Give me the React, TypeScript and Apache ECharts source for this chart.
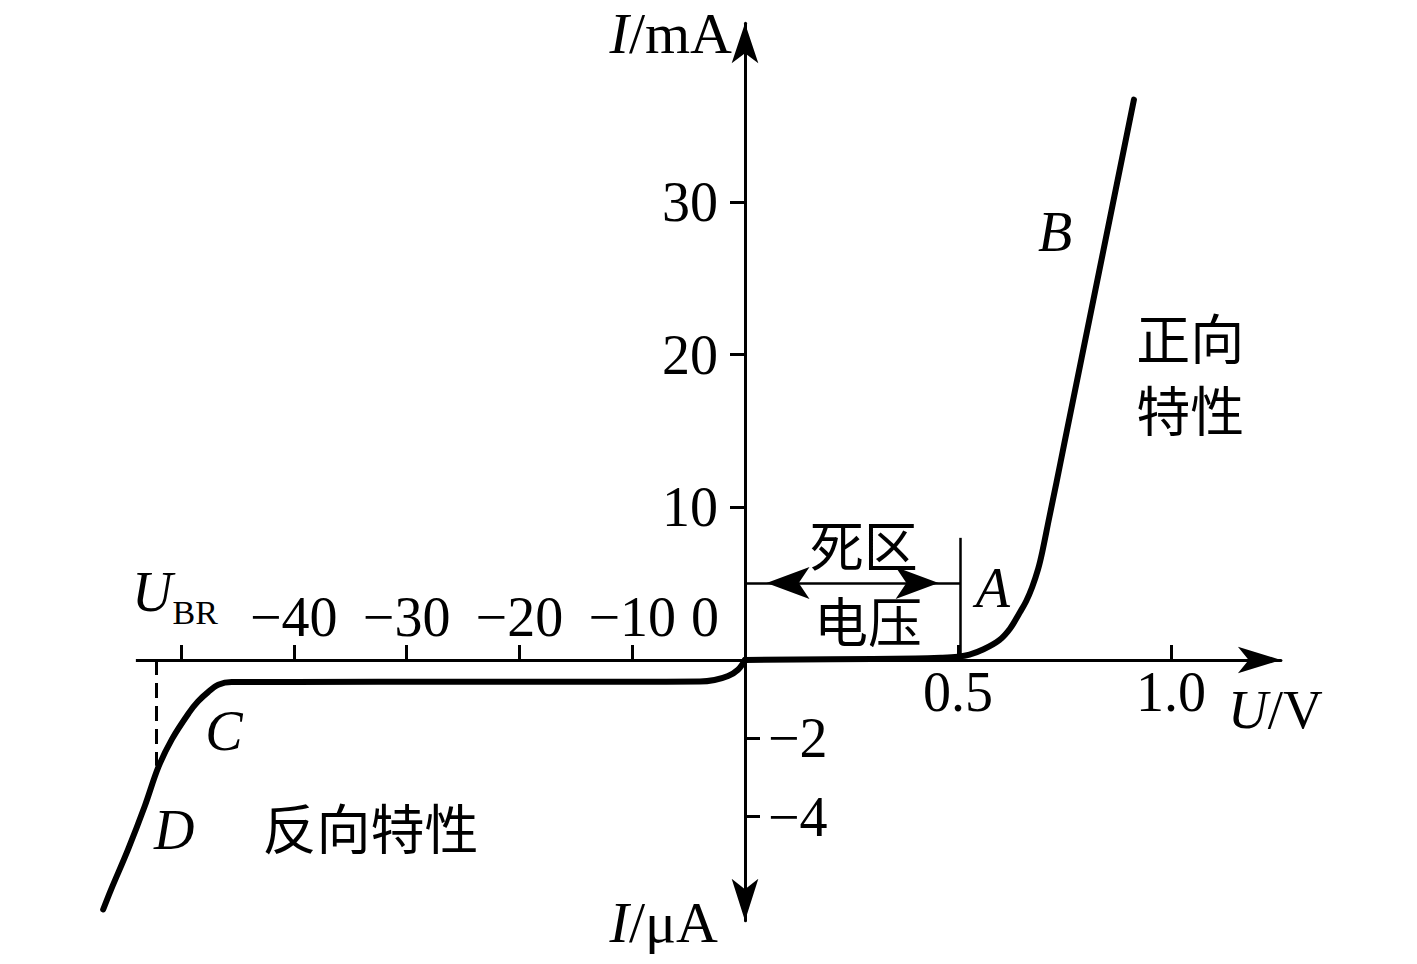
import React, { useEffect, useRef } from 'react';
import * as echarts from 'echarts';

// Forward characteristic: voltage (V) vs current (mA)
const forwardVoltage = [0, 0.2, 0.4, 0.46, 0.5, 0.527, 0.56, 0.597, 0.622, 0.644, 0.66, 0.674, 0.688, 0.698, 0.714, 0.731, 0.749, 0.831, 0.913];
const forwardCurrent = [0, 0.05, 0.1, 0.15, 0.22, 0.35, 0.7, 1.3, 2.05, 3.06, 3.85, 4.76, 5.95, 7.1, 9.3, 11.6, 14.1, 25.4, 36.7];

// Reverse characteristic: voltage (V) vs current (µA)
const reverseVoltage = [0, -0.62, -1.5, -2.7, -4, -10, -25, -40, -45.5, -46.7, -47.6, -48.5, -49.3, -50.8, -52, -53.2, -54.7, -56.2, -56.9];
const reverseCurrent = [0, -0.25, -0.41, -0.51, -0.55, -0.555, -0.555, -0.56, -0.56, -0.63, -0.82, -1.06, -1.35, -2.02, -2.73, -3.72, -4.84, -5.86, -6.37];

// Tick values / labels
const forwardXTicks = [0.5, 1.0];
const forwardYTicks = [10, 20, 30];
const reverseXTicks = [-50, -40, -30, -20, -10];
const reverseXLabels = [-50, -40, -30, -20, -10, 0];
const reverseYTicks = [-2, -4];

// Annotations [x, y, text]
const forwardNotes: [number, number, string][] = [
  [0.582, 4.72, 'A'],
  [0.728, 28.0, 'B'],
  [1.045, 18.8, '正向\n特性'],
  [0.279, 7.66, '死区'],
  [0.289, 2.68, '电压'],
];
const reverseNotes: [number, number, string][] = [
  [-46.2, -1.81, 'C'],
  [-50.6, -4.34, 'D'],
  [-33.2, -4.26, '反向特性'],
];

// Dead-zone marker and breakdown marker (data units)
const deadZoneVoltage = 0.505;
const deadZoneMarkerTop = 8.0;
const deadZoneArrowLevel = 5.04;
const breakdownDashVoltage = -52.2;
const breakdownDashBottom = -2.7;

// Axis ranges
const fwdXMax = 1.258;
const fwdYMax = 41.7;
const revAxisStart = -54;
const revXMin = -58;
const revYMin = -6.66;

const SERIF = "'Liberation Serif', 'Times New Roman', serif";
const CJK = "'Noto Sans CJK SC', sans-serif";

function noteData(notes: [number, number, string][]) {
  return notes.map(([x, y, t]) => {
    const latin = /^[A-Z]$/.test(t);
    return {
      value: [x, y],
      name: t,
      label: latin
        ? { fontFamily: SERIF, fontStyle: 'italic', fontSize: 56, color: '#000' }
        : { fontFamily: CJK, fontSize: 54, lineHeight: 72, color: '#000' },
    };
  });
}

export default function App() {
  const ref = useRef<HTMLDivElement>(null);

  useEffect(() => {
    if (!ref.current) return;
    const chart = echarts.init(ref.current, undefined, { renderer: 'svg' });

    const W = 1417;
    const H = 964;
    const ox = 745;
    const oy = 660;
    const pxPerV = 426;
    const pxPerMA = 15.27;
    const pxPerRevV = 11.28;
    const pxPerUA = 39.17;

    const axisLine = { color: '#000', width: 3 };
    const tickStyle = { color: '#000', width: 3 };
    const labelBase = { color: '#000', fontFamily: SERIF, fontSize: 56, lineHeight: 56 };
    const noteItemStyle = { color: 'rgba(255,255,255,0)', opacity: 1 };

    const option: any = {
      animation: false,
      backgroundColor: '#fff',
      grid: [
        {
          left: ox,
          right: W - (ox + fwdXMax * pxPerV),
          top: oy - fwdYMax * pxPerMA,
          bottom: H - oy,
          containLabel: false,
          outerBoundsMode: 'none',
        },
        {
          left: ox + revXMin * pxPerRevV,
          right: W - ox,
          top: oy,
          bottom: H - (oy - revYMin * pxPerUA),
          containLabel: false,
          outerBoundsMode: 'none',
        },
      ],
      xAxis: [
        {
          type: 'value',
          gridIndex: 0,
          min: 0,
          max: fwdXMax,
          position: 'bottom',
          axisLine: { show: true, onZero: false, lineStyle: axisLine, symbol: ['none', 'arrow'], symbolSize: [20, 43] },
          axisTick: { show: true, inside: true, length: 15, lineStyle: tickStyle, customValues: forwardXTicks },
          axisLabel: {
            ...labelBase,
            margin: 4,
            customValues: forwardXTicks,
            formatter: (v: number) => (v === 1 ? '1.0' : String(v)),
          },
          splitLine: { show: false },
        },
        {
          type: 'value',
          gridIndex: 1,
          min: revXMin,
          max: 0,
          position: 'top',
          axisLine: { show: false, onZero: false },
          axisTick: { show: true, length: 15, lineStyle: tickStyle, customValues: reverseXTicks },
          axisLabel: {
            ...labelBase,
            margin: 15,
            customValues: reverseXLabels,
            formatter: (v: number) =>
              v === -50 ? '{u|U}{b|BR}' : v === 0 ? '{z|0}' : '\u2212' + Math.abs(v),
            rich: {
              u: { fontFamily: SERIF, fontStyle: 'italic', fontSize: 56, lineHeight: 56, color: '#000', padding: [0, 0, 25, 0], verticalAlign: 'bottom' },
              b: { fontFamily: SERIF, fontSize: 34, lineHeight: 34, color: '#000', padding: [0, 12, 16, 0], verticalAlign: 'bottom' },
              z: { fontFamily: SERIF, fontSize: 56, lineHeight: 56, color: '#000', padding: [0, 80, 0, 0] },
            },
          },
          splitLine: { show: false },
        },
      ],
      yAxis: [
        {
          type: 'value',
          gridIndex: 0,
          min: 0,
          max: fwdYMax,
          position: 'left',
          axisLine: { show: true, onZero: false, lineStyle: axisLine, symbol: ['none', 'arrow'], symbolSize: [20, 40] },
          axisTick: { show: true, length: 15, lineStyle: tickStyle, customValues: forwardYTicks },
          axisLabel: { ...labelBase, margin: 27, customValues: forwardYTicks },
          splitLine: { show: false },
        },
        {
          type: 'value',
          gridIndex: 1,
          min: revYMin,
          max: 0,
          position: 'right',
          axisLine: { show: true, onZero: false, lineStyle: axisLine, symbol: ['arrow', 'none'], symbolSize: [20, 42] },
          axisTick: { show: true, length: 15, lineStyle: tickStyle, customValues: reverseYTicks },
          axisLabel: {
            ...labelBase,
            margin: 23,
            customValues: reverseYTicks,
            formatter: (v: number) => '\u2212' + Math.abs(v),
          },
          splitLine: { show: false },
        },
      ],
      series: [
        {
          type: 'line',
          xAxisIndex: 0,
          yAxisIndex: 0,
          data: forwardVoltage.map((v, i) => [v, forwardCurrent[i]]),
          showSymbol: false,
          smooth: 0.35,
          lineStyle: { color: '#000', width: 6, cap: 'round', join: 'round' },
          markLine: {
            silent: true,
            animation: false,
            symbol: ['arrow', 'arrow'],
            symbolSize: [24, 43],
            symbolOffset: [[0, 21.5], [0, 21.5]],
            label: { show: false },
            lineStyle: { color: '#000', width: 2.5, type: 'solid' },
            data: [[{ coord: [0, deadZoneArrowLevel] }, { coord: [deadZoneVoltage, deadZoneArrowLevel] }]],
          },
        },
        {
          type: 'line',
          xAxisIndex: 1,
          yAxisIndex: 1,
          data: reverseVoltage.map((v, i) => [v, reverseCurrent[i]]),
          showSymbol: false,
          smooth: 0.35,
          z: 3,
          lineStyle: { color: '#000', width: 6, cap: 'round', join: 'round' },
          markLine: {
            silent: true,
            animation: false,
            symbol: ['none', 'none'],
            label: { show: false },
            z: 1,
            lineStyle: { color: '#000', width: 3, type: 'solid' },
            data: [[{ coord: [revAxisStart, 0] }, { coord: [0, 0] }]],
          },
        },
        {
          type: 'scatter',
          xAxisIndex: 0,
          yAxisIndex: 0,
          symbolSize: 1,
          itemStyle: noteItemStyle,
          label: { show: true, position: 'inside', formatter: '{b}', color: '#000' },
          data: noteData(forwardNotes),
          markLine: {
            silent: true,
            animation: false,
            symbol: ['none', 'none'],
            label: { show: false },
            lineStyle: { color: '#000', width: 2.5, type: 'solid' },
            data: [[{ coord: [deadZoneVoltage, 0] }, { coord: [deadZoneVoltage, deadZoneMarkerTop] }]],
          },
        },
        {
          type: 'scatter',
          xAxisIndex: 1,
          yAxisIndex: 1,
          symbolSize: 1,
          itemStyle: noteItemStyle,
          label: { show: true, position: 'inside', formatter: '{b}', color: '#000' },
          data: noteData(reverseNotes),
          markLine: {
            silent: true,
            animation: false,
            symbol: ['none', 'none'],
            label: { show: false },
            lineStyle: { color: '#000', width: 3, type: [15, 8] },
            data: [[{ coord: [breakdownDashVoltage, 0] }, { coord: [breakdownDashVoltage, breakdownDashBottom] }]],
          },
        },
      ],
      graphic: [
        {
          type: 'text',
          x: 732,
          y: 33,
          style: {
            text: '{i|I}/mA',
            align: 'right',
            verticalAlign: 'middle',
            fontFamily: SERIF,
            fontSize: 58,
            fill: '#000',
            rich: { i: { fontFamily: SERIF, fontSize: 58, fontStyle: 'italic', fill: '#000' } },
          },
        },
        {
          type: 'text',
          x: 1228,
          y: 709,
          style: {
            text: '{i|U}/V',
            align: 'left',
            verticalAlign: 'middle',
            fontFamily: SERIF,
            fontSize: 55,
            fill: '#000',
            rich: { i: { fontFamily: SERIF, fontSize: 55, fontStyle: 'italic', fill: '#000' } },
          },
        },
        {
          type: 'text',
          x: 718,
          y: 922,
          style: {
            text: '{i|I}/\u03bcA',
            align: 'right',
            verticalAlign: 'middle',
            fontFamily: SERIF,
            fontSize: 58,
            fill: '#000',
            rich: { i: { fontFamily: SERIF, fontSize: 58, fontStyle: 'italic', fill: '#000' } },
          },
        },
      ],
    };

    chart.setOption(option);
    return () => chart.dispose();
  }, []);

  return (
    <div
      ref={ref}
      style={{ position: 'fixed', left: 0, top: 0, width: 1417, height: 964, background: '#fff' }}
    />
  );
}
